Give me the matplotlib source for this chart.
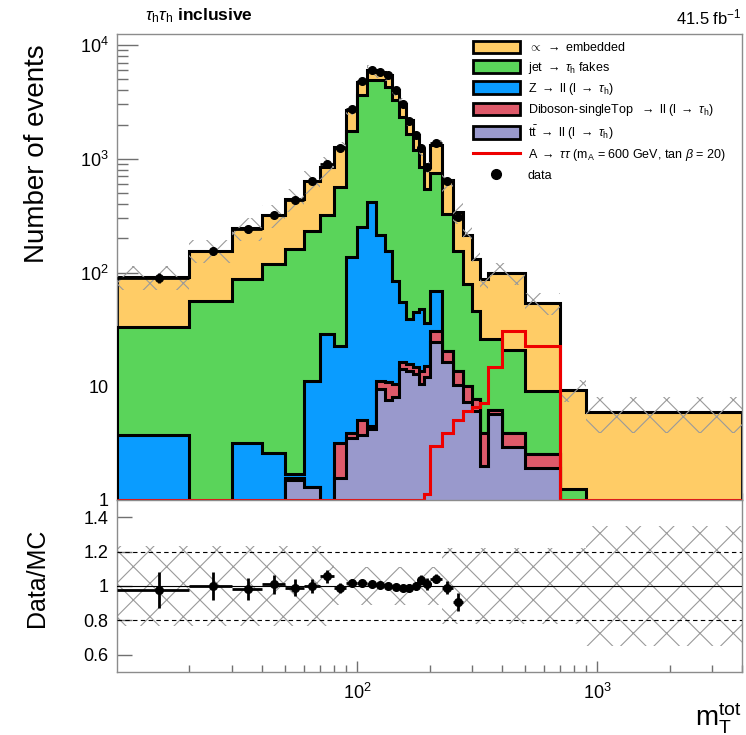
import numpy as np
import matplotlib
matplotlib.use('Agg')
import matplotlib.pyplot as plt
from matplotlib.patches import Patch
from matplotlib.lines import Line2D
from matplotlib.ticker import FixedLocator, NullFormatter, FuncFormatter, LogLocator

plt.rcParams['font.family'] = ['Liberation Sans', 'DejaVu Sans']
plt.rcParams['mathtext.fontset'] = 'custom'
plt.rcParams['mathtext.rm'] = 'Liberation Sans'
plt.rcParams['mathtext.it'] = 'Liberation Sans:italic'
plt.rcParams['mathtext.bf'] = 'Liberation Sans:bold'
plt.rcParams['mathtext.fallback'] = 'cm'
plt.rcParams['hatch.linewidth'] = 0.8
plt.rcParams['hatch.color'] = '#9a9a9a'

# ---------------- data ----------------
edges = [10, 20, 30, 40, 50, 60, 70, 80, 90, 100, 110, 120, 130, 140, 150, 160,
         170, 180, 190, 200, 225, 250, 275, 300, 325, 350, 400, 500, 700, 900, 4000]

embedded = [59, 100, 155.5, 198, 280, 410, 529, 700, 950, 1150, 1100, 900, 1140, 750,
            720, 518, 420, 343, 294, 565, 322, 184, 132.5, 86, 62, 74, 79, 44.6, 8.0, 5.96]
jetfakes = [29.3, 56, 85.3, 117.4, 158.3, 218.8, 289, 537, 1614, 3349, 4483, 4688, 4146,
            3186, 2284, 1628, 1145, 799, 510, 681, 304.5, 142.5, 69.5, 38.3, 22.1, 19.8,
            17.1, 6.6, 1.24, 0]
zll = [3.74, 0, 3.2, 2.6, 0.15, 9.9, 28.4, 19.5, 132, 246, 412.5, 200.8, 143, 73.5, 39.4,
       23.3, 30.3, 34.4, 20.9, 38.2, 0, 0, 0, 0, 0, 0, 0, 0, 0, 0]
diboson = [0, 0, 0, 0, 0.05, 0, 0.1, 1.63, 0.4, 1.3, 0.3, 1.8, 3.3, 2.5, 2.0, 2.1, 1.8,
           3.2, 3.1, 6.3, 4.3, 3.2, 2.8, 1.6, 1.9, 0.5, 1.0, 0.6, 0, 0]
ttbar = [0, 0, 0, 0, 1.5, 1.3, 0.5, 1.57, 3.5, 3.7, 4.2, 9.4, 7.6, 8.0, 14.2, 13.6, 12.9,
         10.4, 12.0, 24.5, 16.2, 10.3, 7.2, 6.1, 2.0, 5.7, 2.9, 1.93, 0, 0]
signal = [0, 0, 0, 0, 0, 0, 0, 0, 0, 0, 0, 0, 0, 0, 0, 0, 0, 0,
          1.12, 3.0, 3.9, 5.0, 6.1, 6.6, 7.1, 14.9, 30.8, 22.4, 0, 0]
data = [90, 156, 240, 321, 436, 640, 894, 1247, 2754, 4821, 6060, 5829, 5440, 4000,
        3029, 2163, 1610, 1232, 848, 1372, 641, 308]
unc_rel = [0.23, 0.23, 0.23, 0.23, 0.23, 0.23, 0.23,
           0.11, 0.11, 0.11, 0.11, 0.11, 0.11, 0.11, 0.11, 0.11, 0.11, 0.11, 0.11, 0.11,
           0.22, 0.22, 0.22, 0.22, 0.22, 0.22, 0.22, 0.22, 0.22, 0.35]

labels = [r'$\mathrm{t\bar{t}}$ $\rightarrow$ ll (l $\rightarrow$ $\tau_\mathrm{h}$)',
          r'Diboson-singleTop  $\rightarrow$ ll (l $\rightarrow$ $\tau_\mathrm{h}$)',
          r'Z $\rightarrow$ ll (l $\rightarrow$ $\tau_\mathrm{h}$)',
          r'jet $\rightarrow$ $\tau_\mathrm{h}$ fakes',
          r'$\propto$ $\rightarrow$ embedded']
colors = ['#9999cc', '#de5a6a', '#0a9cff', '#5ad45a', '#ffcc66']
sig_label = r'A $\rightarrow$ $\tau\tau$ (m$_\mathrm{A}$ = 600 GeV, tan $\beta$ = 20)'

# ---------------- figure ----------------
W, H = 746, 735
fig = plt.figure(figsize=(W / 100, H / 100), dpi=100)
L, R = 117, 742
ax = fig.add_axes([L / W, 1 - 500 / H, (R - L) / W, (500 - 34) / H])
rax = fig.add_axes([L / W, 1 - 672 / H, (R - L) / W, (672 - 500) / H])

ed = np.array(edges, float)
comps = np.array([ttbar, diboson, zll, jetfakes, embedded], float)
cum = np.cumsum(comps, axis=0)
floor = 1e-3
for i in range(4, -1, -1):
    z = 2 + (4 - i)
    vals = np.maximum(cum[i], floor)
    ax.stairs(vals, ed, baseline=floor, fill=True, color=colors[i], lw=0, zorder=z)
    ax.stairs(vals, ed, baseline=floor, color='black', lw=2.2, zorder=z + 0.5)

tot = cum[-1]
unc = np.array(unc_rel)
ax.stairs(tot * (1 + unc), ed, baseline=tot * (1 - unc), fill=True, facecolor='none',
          edgecolor='#9a9a9a', hatch='x', lw=0, zorder=9)

sig = np.array(signal, float)
ax.stairs(np.maximum(sig, 1.0), ed, baseline=None, color='#ee0000', lw=2.2, zorder=10)

nd = len(data)
dat = np.array(data, float)
ctr = 0.5 * (ed[:-1] + ed[1:])
xerr = [ctr[:nd] - ed[:nd], ed[1:nd + 1] - ctr[:nd]]
ax.errorbar(ctr[:nd], dat, yerr=np.sqrt(dat), xerr=xerr, fmt='o', color='black',
            ms=5.5, lw=2, capsize=0, zorder=12)

ax.set_xscale('log')
ax.set_yscale('log')
ax.set_xlim(10, 4000)
ax.set_ylim(1, 1.25e4)


def yfmt(v, pos):
    if abs(v - 1) < 1e-9:
        return '1'
    if abs(v - 10) < 1e-6:
        return '10'
    e = int(round(np.log10(v)))
    return r'$10^{%d}$' % e


ax.yaxis.set_major_locator(FixedLocator([1, 10, 100, 1000, 10000]))
ax.yaxis.set_major_formatter(FuncFormatter(yfmt))
ax.yaxis.set_minor_locator(LogLocator(base=10, subs=np.arange(2, 10), numticks=20))
ax.yaxis.set_minor_formatter(NullFormatter())
ax.xaxis.set_major_locator(FixedLocator([100, 1000]))
ax.xaxis.set_minor_locator(LogLocator(base=10, subs=np.arange(2, 10), numticks=20))
ax.xaxis.set_major_formatter(NullFormatter())
ax.xaxis.set_minor_formatter(NullFormatter())

# ratio panel
ratio = dat / tot[:nd]
rerr = np.sqrt(dat) / tot[:nd]
rax.stairs(1 + unc, ed, baseline=1 - unc, fill=True, facecolor='none',
           edgecolor='#9a9a9a', hatch='x', lw=0, zorder=2)
rax.axhline(1.0, color='black', lw=0.8, zorder=3)
rax.axhline(1.2, color='black', lw=0.8, ls=(0, (4, 3)), zorder=3)
rax.axhline(0.8, color='black', lw=0.8, ls=(0, (4, 3)), zorder=3)
rax.errorbar(ctr[:nd], ratio, yerr=rerr, xerr=xerr, fmt='o', color='black',
             ms=5.5, lw=2, capsize=0, zorder=5)
rax.set_xscale('log')
rax.set_xlim(10, 4000)
rax.set_ylim(0.5, 1.5)
rax.yaxis.set_major_locator(FixedLocator([0.6, 0.8, 1.0, 1.2, 1.4]))
rax.yaxis.set_major_formatter(FuncFormatter(lambda v, p: ('%g' % v)))
rax.xaxis.set_major_locator(FixedLocator([100, 1000]))
rax.xaxis.set_major_formatter(FuncFormatter(lambda v, p: r'$10^{%d}$' % int(round(np.log10(v)))))
rax.xaxis.set_minor_locator(LogLocator(base=10, subs=np.arange(2, 10), numticks=20))
rax.xaxis.set_minor_formatter(NullFormatter())

for a in (ax, rax):
    for s in a.spines.values():
        s.set_color('#8c8c8c')
        s.set_linewidth(1.0)
    a.tick_params(which='both', direction='in', color='#707070', top=False, right=False,
                  labelsize=13, width=1)
    a.tick_params(axis='x', which='major', length=8)
    a.tick_params(axis='x', which='minor', length=5)
    a.tick_params(axis='x', which='major', pad=8)
ax.tick_params(axis='y', which='major', length=15, pad=6)
ax.tick_params(axis='y', which='minor', length=8)
rax.tick_params(axis='y', which='major', length=11, pad=6)

# legend
handles = [Patch(facecolor=colors[4], edgecolor='black', lw=2, label=labels[4]),
           Patch(facecolor=colors[3], edgecolor='black', lw=2, label=labels[3]),
           Patch(facecolor=colors[2], edgecolor='black', lw=2, label=labels[2]),
           Patch(facecolor=colors[1], edgecolor='black', lw=2, label=labels[1]),
           Patch(facecolor=colors[0], edgecolor='black', lw=2, label=labels[0]),
           Line2D([], [], color='#ee0000', lw=2.2, label=sig_label),
           Line2D([], [], color='black', marker='o', ls='none', ms=7, label='data')]
ax.legend(handles=handles, loc='upper left', bbox_to_anchor=(0.57, 0.985), frameon=False,
          fontsize=9, handlelength=3.7, handleheight=1.15, labelspacing=0.42,
          handletextpad=0.65, borderpad=0, borderaxespad=0)

# texts
fig.text(145 / W, 1 - 16 / H, r'$\tau_\mathrm{h}\tau_\mathrm{h}$ $\mathbf{inclusive}$',
         fontsize=12.5, ha='left', va='center')
fig.text(R / W, 1 - 17 / H, r'41.5 fb$^{\mathrm{-1}}$', fontsize=12, ha='right', va='center')
fig.text(37 / W, 1 - 154 / H, 'Number of events', fontsize=20, rotation=90,
         ha='center', va='center')
fig.text(37 / W, 1 - 578 / H, 'Data/MC', fontsize=18, rotation=90, ha='center', va='center')
fig.text(R / W, 1 - 718 / H, r'm$_\mathrm{T}^\mathrm{tot}$', fontsize=20, ha='right',
         va='center')

fig.savefig('out.png', dpi=100)
